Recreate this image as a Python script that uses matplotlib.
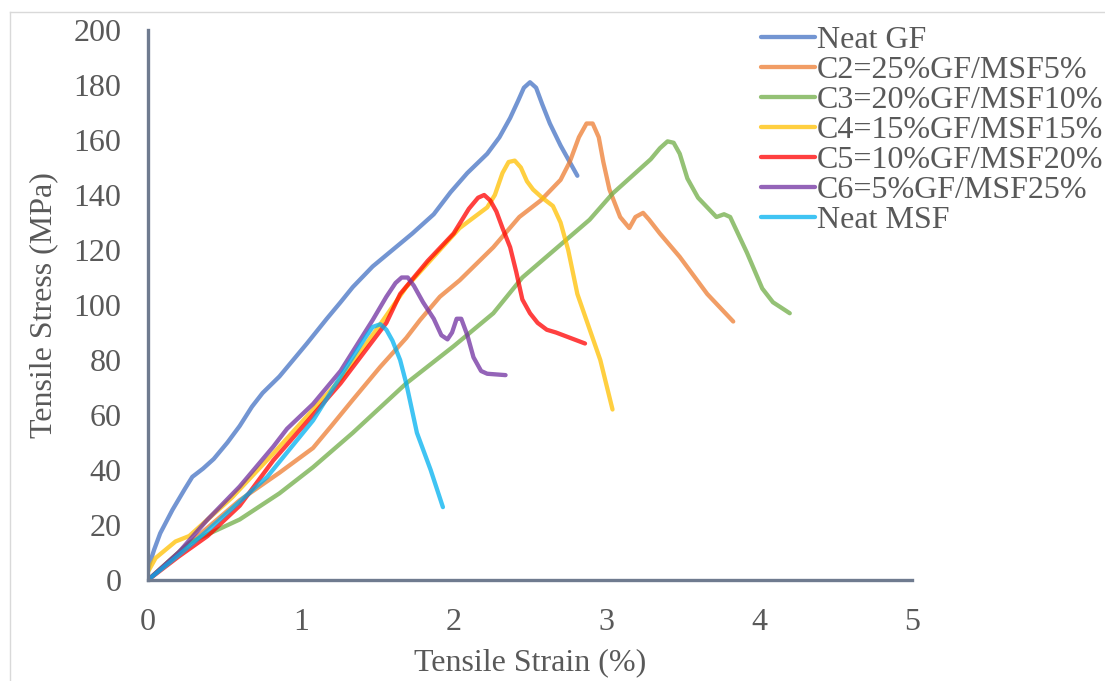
import matplotlib.pyplot as plt
from matplotlib.lines import Line2D

# (strain %, stress MPa)
gf_x = [0, 0.04, 0.08, 0.16, 0.24, 0.29, 0.36, 0.43, 0.52, 0.60, 0.68, 0.75, 0.86, 0.95, 1.04, 1.17, 1.26, 1.34, 1.47, 1.60, 1.73, 1.87, 1.98, 2.09, 2.22, 2.30, 2.37, 2.42, 2.46, 2.50, 2.54, 2.58, 2.63, 2.70, 2.81]
gf_y = [4, 11, 17, 25.5, 33, 37.5, 40.5, 44, 50, 56, 63, 68, 74, 80, 86, 95, 101, 106.5, 114, 120, 126, 133, 141, 148, 155, 161, 168, 174, 179, 181, 179, 173, 166, 158, 147]

c2_x = [0, 0.2, 0.39, 0.60, 0.86, 1.08, 1.20, 1.34, 1.52, 1.69, 1.78, 1.91, 2.04, 2.26, 2.43, 2.57, 2.70, 2.76, 2.82, 2.87, 2.91, 2.95, 2.98, 3.02, 3.09, 3.15, 3.19, 3.24, 3.28, 3.35, 3.48, 3.66, 3.83]
c2_y = [0, 10, 19, 29, 39, 48, 56, 65.5, 77.5, 88, 94.5, 103, 109, 121, 132, 138, 145.5, 152, 161, 166, 166, 161, 152, 142, 132, 128, 132, 133.5, 131, 126, 117.5, 104, 94]

c3_x = [0, 0.27, 0.60, 0.86, 1.08, 1.34, 1.69, 2.00, 2.26, 2.45, 2.89, 3.04, 3.29, 3.35, 3.40, 3.44, 3.48, 3.53, 3.60, 3.72, 3.77, 3.81, 3.92, 4.02, 4.09, 4.20]
c3_y = [0, 13.5, 22, 31.5, 41, 53.5, 71.5, 85, 97, 110, 131, 140.5, 153, 157, 159.5, 159, 155, 146, 139, 132, 133, 132, 119, 106, 101, 97]

c4_x = [0, 0.05, 0.18, 0.27, 0.55, 0.82, 1.26, 1.52, 1.69, 2.04, 2.22, 2.27, 2.32, 2.36, 2.40, 2.44, 2.48, 2.52, 2.58, 2.65, 2.70, 2.75, 2.81, 2.96, 3.04]
c4_y = [3, 8, 14, 16, 30, 46, 73, 93, 106.5, 128, 135.5, 140, 148, 152, 152.5, 150, 145, 142, 139, 136, 130, 120, 104, 80, 62]

c5_x = [0, 0.2, 0.39, 0.60, 0.82, 1.26, 1.56, 1.65, 1.83, 2.00, 2.10, 2.16, 2.20, 2.24, 2.28, 2.32, 2.37, 2.41, 2.45, 2.50, 2.55, 2.61, 2.67, 2.86]
c5_y = [0, 8.5, 16, 27, 43.5, 71.5, 93.5, 104, 116, 126, 135, 139, 140, 138, 134, 128, 121, 112, 102, 97, 93.5, 91, 90, 86]

c6_x = [0, 0.2, 0.39, 0.60, 0.82, 0.91, 1.08, 1.26, 1.47, 1.56, 1.62, 1.66, 1.70, 1.74, 1.80, 1.87, 1.92, 1.96, 1.99, 2.02, 2.05, 2.09, 2.13, 2.18, 2.22, 2.34]
c6_y = [0, 10, 22, 34, 48.5, 55, 64, 76, 94.5, 103, 108, 110, 110, 107, 101, 95, 89, 87.5, 90, 95, 95, 89, 81, 76, 75, 74.5]

msf_x = [0, 0.2, 0.39, 0.78, 1.08, 1.30, 1.42, 1.47, 1.52, 1.56, 1.60, 1.65, 1.69, 1.76, 1.85, 1.93]
msf_y = [0, 9, 18, 37.5, 58, 77.5, 88, 92, 93, 91, 87, 80, 71.5, 53.5, 40, 26.5]

labels = ['Neat GF', 'C2=25%GF/MSF5%', 'C3=20%GF/MSF10%', 'C4=15%GF/MSF15%',
          'C5=10%GF/MSF20%', 'C6=5%GF/MSF25%', 'Neat MSF']
colors = ['#4472C4', '#ED7D31', '#70AD47', '#FFC000', '#FF0000', '#7030A0', '#00B0F0']
series = [(gf_x, gf_y), (c2_x, c2_y), (c3_x, c3_y), (c4_x, c4_y),
          (c5_x, c5_y), (c6_x, c6_y), (msf_x, msf_y)]

plt.rcParams['font.family'] = ['Liberation Serif', 'DejaVu Serif']

fig = plt.figure(figsize=(11.05, 6.81), dpi=100)
ax = fig.add_axes([148 / 1105, 1 - 580 / 681, (912 - 148) / 1105, (580 - 30) / 681])

for (xs, ys), c in zip(series, colors):
    ax.plot(xs, ys, color=c, lw=3.1, alpha=0.75, solid_joinstyle='round', solid_capstyle='round')

ax.set_xlim(0, 5)
ax.set_ylim(0, 200)
ax.set_xticks(range(0, 6))
ax.set_yticks(range(0, 201, 20))
ax.tick_params(length=0, labelsize=23, labelcolor='#595959')
ax.tick_params(axis='y', pad=19)
ax.tick_params(axis='x', pad=20)
for s in ['top', 'right']:
    ax.spines[s].set_visible(False)
for s in ['left', 'bottom']:
    ax.spines[s].set_color('#6f7b8f')
    ax.spines[s].set_linewidth(2.4)
ax.set_facecolor('none')

ax.set_xlabel('Tensile Strain (%)', fontsize=23, color='#595959', labelpad=8)
ax.set_ylabel('Tensile Stress (MPa)', fontsize=23, color='#595959', labelpad=11)

handles = [Line2D([0], [0], color=c, lw=3.1, alpha=0.75, solid_capstyle='round') for c in colors]
fig.legend(handles, labels, loc='upper left', bbox_to_anchor=(745 / 1105, 1 - 10 / 681),
           frameon=False, fontsize=23, labelcolor='#595959', handlelength=1.7,
           handletextpad=0.05, labelspacing=0.02, borderpad=0)

# light chart-area border
fig.add_artist(Line2D([10 / 1105, 1], [1 - 12 / 681, 1 - 12 / 681], color='#d9d9d9', lw=1))
fig.add_artist(Line2D([10 / 1105, 10 / 1105], [0, 1 - 12 / 681], color='#d9d9d9', lw=1))

fig.savefig('out.png', dpi=100)
